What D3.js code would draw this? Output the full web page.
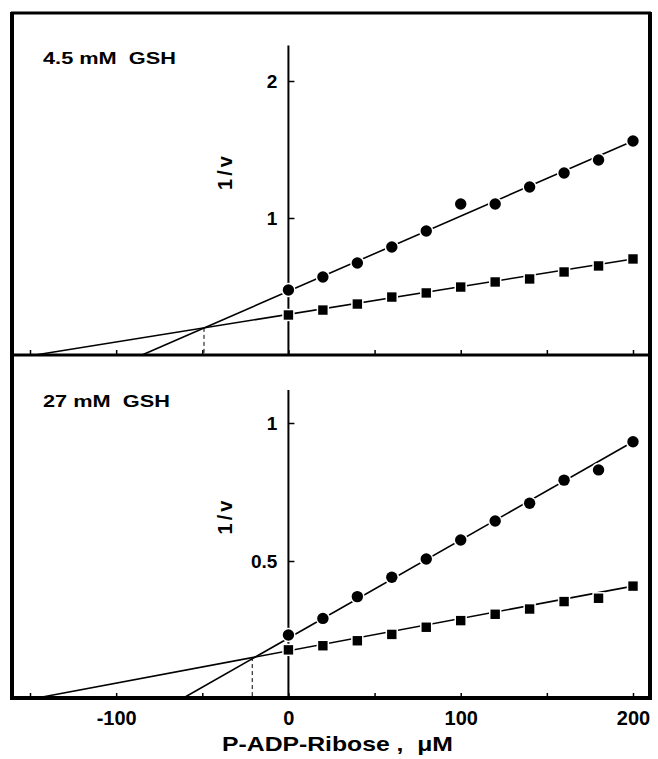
<!DOCTYPE html>
<html><head><meta charset="utf-8">
<script src="https://cdn.jsdelivr.net/npm/d3@7"></script>
<style>
html,body{margin:0;padding:0;background:#fff;}
text{font-family:"Liberation Sans",Arial,sans-serif;font-weight:bold;fill:#000;}
</style></head>
<body><svg id="c" width="658" height="759"></svg>
<script>
// ---- data ----
const concentrations = [0,20,40,60,80,100,120,140,160,180,200];
const topCircles = [0.474,0.569,0.672,0.788,0.905,1.102,1.102,1.226,1.328,1.423,1.562];
const topSquares = [0.292,0.328,0.372,0.423,0.453,0.496,0.533,0.555,0.606,0.650,0.701];
const botCircles = [0.232,0.292,0.371,0.441,0.507,0.576,0.645,0.709,0.793,0.830,0.932];
const botSquares = [0.178,0.193,0.211,0.234,0.260,0.284,0.307,0.326,0.353,0.365,0.409];
// fitted lines: [x, 1/v] end points
const topCircleFit = [[-85,0],[200,1.562]];
const topSquareFit = [[-147,0],[200,0.701]];
const botCircleFit = [[-62,0],[200,0.932]];
const botSquareFit = [[-149,0],[200,0.409]];
// intersection points (dashed drop lines)
const topIntersect = [-49,0.198];
const botIntersect = [-21,0.152];
const xTicks = [-150,-100,-50,0,50,100,150,200];
const xTickLabels = [-100,0,100,200];
const topYTicks = [1,2];
const botYTicks = [0.5,1];
const topYMax = 2.26, botYMax = 1.12;
const topTitle = "4.5 mM  GSH", botTitle = "27 mM  GSH";
const yLabel = "1/v";
const xLabel = "P-ADP-Ribose ,  μM";

// ---- layout ----
const svg = d3.select("#c");
const x = d3.scaleLinear().domain([-150,200]).range([30,633]);
const yTop = d3.scaleLinear().domain([0,2]).range([355,81]);
const yBot = d3.scaleLinear().domain([0,1]).range([699,423]);

function panel(y, circles, squares, cFit, sFit, inter, yTicks, yMax, title, axisY, isTop){
  const g = svg.append("g");
  const xa = g.append("g").attr("transform",`translate(0,${axisY})`)
    .call(d3.axisTop(x).tickValues(xTicks).tickFormat("").tickSize(5));
  xa.select(".domain").remove();
  xa.selectAll("line").attr("stroke","#000").attr("stroke-width",1.5);
  g.append("line").attr("x1",x(0)).attr("x2",x(0)).attr("y1",y(0)).attr("y2",y(yMax))
    .attr("stroke","#000").attr("stroke-width",2);
  const ya = g.append("g").attr("transform",`translate(${x(0)},0)`)
    .call(d3.axisLeft(y).tickValues(yTicks).tickSizeInner(-6).tickSizeOuter(0).tickPadding(11)
      .tickFormat(d=>String(d)));
  ya.select(".domain").remove();
  ya.selectAll("line").attr("stroke","#000").attr("stroke-width",1.5);
  ya.selectAll("text").attr("font-size",19).attr("font-family","Liberation Sans, Arial, sans-serif")
    .attr("font-weight","bold");
  g.append("line").attr("x1",x(inter[0])).attr("x2",x(inter[0]))
    .attr("y1",y(inter[1])).attr("y2",y(0))
    .attr("stroke","#000").attr("stroke-width",1).attr("stroke-dasharray","4,3");
  const line = d3.line().x(d=>x(d[0])).y(d=>y(d[1]));
  [cFit,sFit].forEach(f=>{
    g.append("path").attr("d",line(f)).attr("fill","none").attr("stroke","#000").attr("stroke-width",1.6);
  });
  g.selectAll(".c").data(concentrations).enter().append("circle")
    .attr("cx",d=>x(d)).attr("cy",(d,i)=>y(circles[i])).attr("r",5.7)
    .attr("fill","#000").attr("stroke","#fff").attr("stroke-width",3).attr("paint-order","stroke");
  g.selectAll(".s").data(concentrations).enter().append("rect")
    .attr("x",d=>x(d)-4.7).attr("y",(d,i)=>y(squares[i])-4.7).attr("width",9.4).attr("height",9.4)
    .attr("fill","#000").attr("stroke","#fff").attr("stroke-width",3).attr("paint-order","stroke");
  g.append("text").attr("transform",`translate(43,${isTop?64:407}) scale(1.28,1)`)
    .attr("font-size",17).style("white-space","pre").text(title);
  const ly = (y(yTicks[0])+y(yTicks[1]))/2 + (isTop?22:24);
  g.append("text").attr("transform",`translate(232,${ly}) rotate(-90)`)
    .attr("text-anchor","middle").attr("font-size",20).attr("letter-spacing",3).text(yLabel);
}

panel(yTop, topCircles, topSquares, topCircleFit, topSquareFit, topIntersect, topYTicks, topYMax, topTitle, 355, true);
panel(yBot, botCircles, botSquares, botCircleFit, botSquareFit, botIntersect, botYTicks, botYMax, botTitle, 698, false);

// frame
const frame = svg.append("g").attr("stroke","#000").attr("fill","none");
frame.append("line").attr("x1",11).attr("x2",651).attr("y1",13).attr("y2",13).attr("stroke-width",3);
frame.append("line").attr("x1",12).attr("x2",12).attr("y1",12).attr("y2",700).attr("stroke-width",4);
frame.append("line").attr("x1",650).attr("x2",650).attr("y1",12).attr("y2",700).attr("stroke-width",4);
frame.append("line").attr("x1",12).attr("x2",650).attr("y1",355).attr("y2",355).attr("stroke-width",3);
frame.append("line").attr("x1",10).attr("x2",652).attr("y1",698).attr("y2",698).attr("stroke-width",4);

// x tick labels
const xl = svg.append("g").attr("transform","translate(0,698)")
  .call(d3.axisBottom(x).tickValues(xTickLabels).tickSize(0).tickPadding(13).tickFormat(d=>String(d)));
xl.select(".domain").remove();
xl.selectAll("text").attr("font-size",20).attr("font-family","Liberation Sans, Arial, sans-serif")
  .attr("font-weight","bold");
// x axis title
svg.append("text").attr("transform","translate(337.5,751) scale(1.27,1)").attr("text-anchor","middle")
  .attr("font-size",19.5).style("white-space","pre").text(xLabel);
</script></body></html>
